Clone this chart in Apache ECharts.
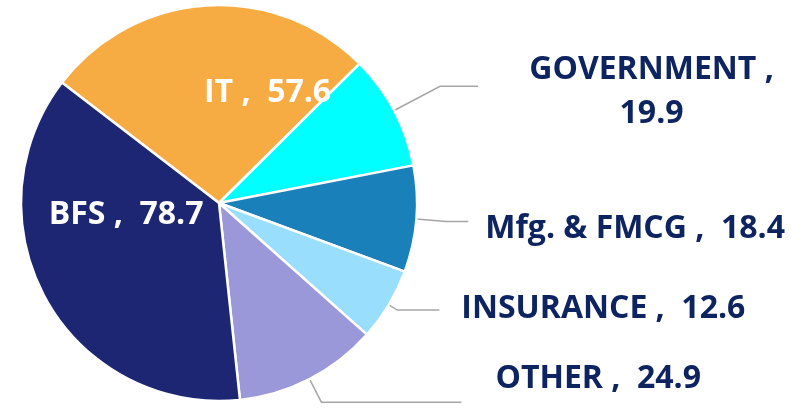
<!DOCTYPE html>
<html>
<head>
<meta charset="utf-8">
<script src="https://cdn.jsdelivr.net/npm/echarts@6/dist/echarts.min.js"></script>
<style>
    html, body { margin: 0; padding: 0; background: #fff; }
    #chart { width: 799px; height: 412px; }
</style>
</head>
<body>
<div id="chart"></div>
<script>
// 行业分布数据（顺时针顺序，从 IT 开始）
const sectors = ['IT', 'GOVERNMENT', 'Mfg. & FMCG', 'INSURANCE', 'OTHER', 'BFS'];
const values = [57.6, 19.9, 18.4, 12.6, 24.9, 78.7];

const colors = ['#F7AC43', '#00FFFF', '#1A80B9', '#99DFFD', '#9A98D8', '#1C2672'];
const textColor = '#0E2461';
const fontFamily = '"Open Sans", sans-serif';
const fontSize = 32;

// 每个标签的位置样式（内侧用 dx/dy 偏移，外侧用引导线长度 + padding）
const labelStyles = [
    { inside: true, dx: 55, dy: -8 },
    { inside: false, len: 52, len2: 38, padding: [12, 0, 0, 46], wrap: true },
    { inside: false, len: 30, len2: 22, padding: [14, 0, 0, 12] },
    { inside: false, len: 10, len2: 42, padding: [0, 0, 2, 17] },
    { inside: false, len: 26, len2: 140, padding: [0, 0, 46, 29] },
    { inside: true, dx: -4, dy: -38 }
];

function buildData() {
    return sectors.map(function(name, i) {
        const s = labelStyles[i];
        const item = {
            name: name,
            value: values[i],
            itemStyle: { color: colors[i] }
        };
        if (s.inside) {
            item.label = {
                position: 'inside',
                color: '#fff',
                formatter: '{b} ,  {c}'
            };
            item.labelLine = { show: false };
        } else {
            item.label = {
                position: 'outside',
                color: textColor,
                padding: s.padding,
                formatter: s.wrap ? '{w|{b} ,}\n{w|{c}}' : '{b} ,  {c}',
                rich: {
                    w: {
                        width: 245,
                        align: 'center',
                        fontSize: fontSize,
                        fontWeight: 'bold',
                        fontFamily: fontFamily,
                        color: textColor,
                        lineHeight: 44
                    }
                }
            };
            item.labelLine = { show: true, length: s.len, length2: s.len2 };
        }
        return item;
    });
}

const chart = echarts.init(document.getElementById('chart'));

chart.setOption({
    animation: false,
    series: [{
        type: 'pie',
        center: [219, 203],
        radius: 198,
        startAngle: 142.5,
        clockwise: true,
        avoidLabelOverlap: false,
        itemStyle: {
            borderColor: '#fff',
            borderWidth: 2.5
        },
        label: {
            fontSize: fontSize,
            fontWeight: 'bold',
            fontFamily: fontFamily
        },
        labelLine: {
            lineStyle: { color: '#A6A6A6', width: 1.5 }
        },
        labelLayout: function(params) {
            const s = labelStyles[params.dataIndex];
            return s.inside ? { dx: s.dx, dy: s.dy } : {};
        },
        emphasis: { disabled: true },
        data: buildData()
    }]
});
</script>
</body>
</html>
